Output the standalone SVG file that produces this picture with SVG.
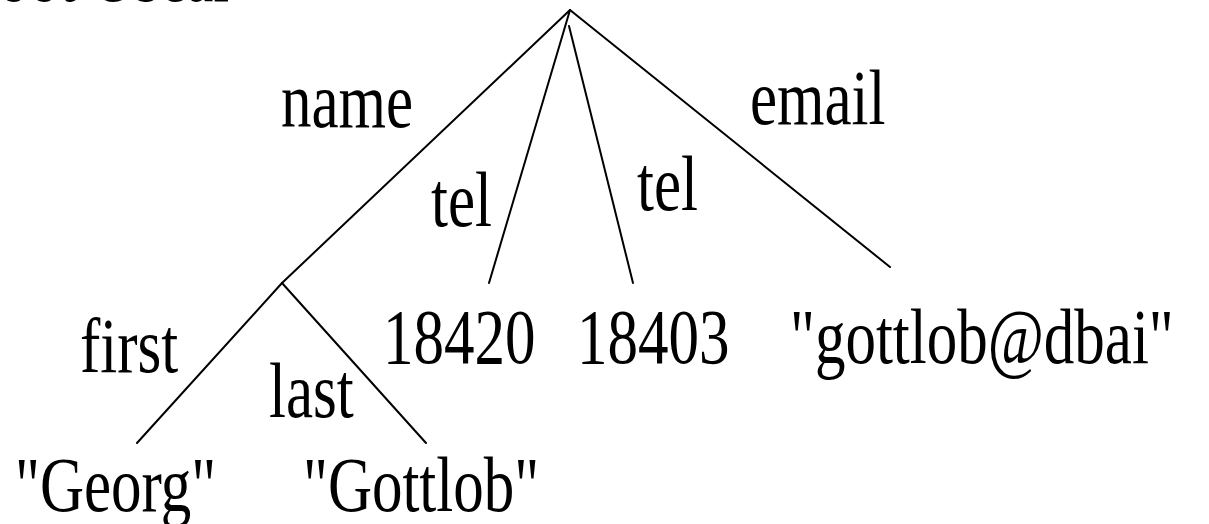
<svg xmlns="http://www.w3.org/2000/svg" width="1209" height="524" viewBox="0 0 1209 524">
<style>
.t{font-family:"Liberation Serif","Times New Roman",serif;font-size:61px;fill:#000}
.e{stroke:#000;stroke-width:2;fill:none;stroke-linecap:round}
</style>
<rect width="1209" height="524" fill="#fff"/>
<text class="t" transform="translate(-22,1) scale(1,1.28)">root Oscar</text>
<g id="connectors">
<line class="e" x1="570" y1="10" x2="282" y2="283"/>
<line class="e" x1="570" y1="10" x2="489" y2="283"/>
<line class="e" x1="569" y1="26" x2="633" y2="283"/>
<line class="e" x1="570" y1="10" x2="890" y2="267"/>
<line class="e" x1="282" y1="283" x2="137" y2="443"/>
<line class="e" x1="282" y1="283" x2="426" y2="443"/>
</g>
<g id="edge-labels">
<text class="t" transform="translate(281,127) scale(1,1.28)">name</text>
<text class="t" transform="translate(750,124) scale(1,1.28)">email</text>
<text class="t" transform="translate(431,226) scale(1,1.28)">tel</text>
<text class="t" transform="translate(637,210) scale(1,1.28)">tel</text>
<text class="t" transform="translate(80,372) scale(1,1.28)">first</text>
<text class="t" transform="translate(269,417) scale(1,1.28)">last</text>
</g>
<g id="node-18420"><text class="t" transform="translate(383,363) scale(1,1.28)">18420</text></g>
<g id="node-18403"><text class="t" transform="translate(577,363) scale(1,1.28)">18403</text></g>
<g id="node-email"><text class="t" transform="translate(790,363) scale(1,1.28)">"gottlob@dbai"</text></g>
<g id="node-georg"><text class="t" transform="translate(15,511) scale(1,1.28)">"Georg"</text></g>
<g id="node-gottlob"><text class="t" transform="translate(303,511) scale(1,1.28)">"Gottlob"</text></g>
</svg>
